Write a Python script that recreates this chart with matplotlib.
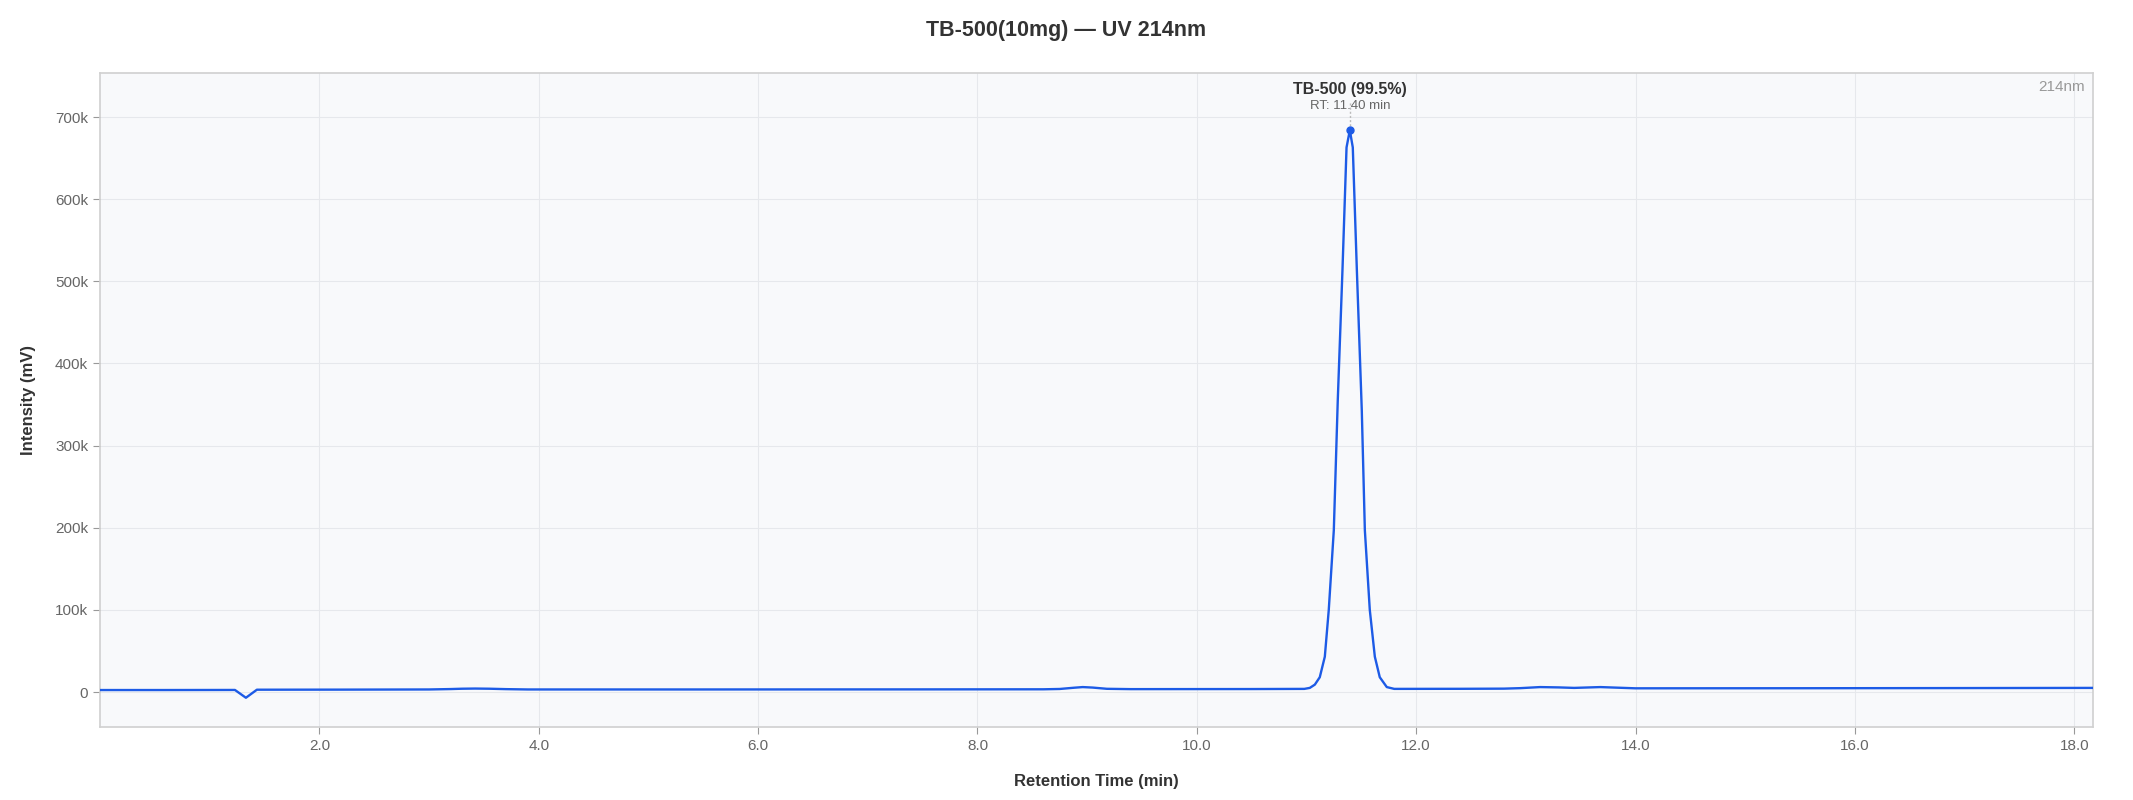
import matplotlib
matplotlib.use("Agg")
import matplotlib.pyplot as plt
from matplotlib.ticker import FuncFormatter

plt.rcParams["font.family"] = ["Liberation Sans", "DejaVu Sans"]

# chromatogram (time in min, intensity in mV)
rt_min = [
    0.00, 0.60, 1.23, 1.33, 1.43, 2.20, 3.00, 3.20, 3.30, 3.42, 3.55, 3.70, 3.90,
    5.50, 7.50, 8.60, 8.75, 8.88, 8.96, 9.05, 9.18, 9.40, 10.50, 10.98,
    11.03, 11.076, 11.121, 11.167, 11.203, 11.249, 11.285, 11.328, 11.365, 11.395,
    11.422, 11.459, 11.504, 11.532, 11.577, 11.623, 11.668, 11.732, 11.80,
    12.40, 12.80, 12.95, 13.13, 13.30, 13.44, 13.56, 13.68, 13.85, 14.00,
    15.50, 17.00, 18.17,
]
intensity = [
    2400, 2400, 2500, -7000, 2800, 2900, 3100, 3600, 4000, 4200, 4000, 3500, 3100,
    3100, 3200, 3300, 3700, 5200, 6000, 5400, 3900, 3500, 3600, 3800,
    5000, 9000, 18000, 43000, 100000, 197000, 355000, 514000, 663000, 684000,
    663000, 514000, 343000, 197000, 100000, 43000, 18000, 6000, 3800,
    3900, 4100, 4700, 6000, 5600, 5000, 5500, 6000, 5200, 4500,
    4600, 4800, 5000,
]

peak_name = "TB-500 (99.5%)"
peak_rt = 11.395
peak_val = 684000

x_ticks = [2, 4, 6, 8, 10, 12, 14, 16, 18]
y_ticks = [0, 100000, 200000, 300000, 400000, 500000, 600000, 700000]

fig = plt.figure(figsize=(21.33, 8), dpi=100)
ax = fig.add_axes([0.0469, 0.09125, 0.9343, 0.8175])
ax.set_facecolor("#f8f9fb")

ax.plot(rt_min, intensity, color="#1d5be6", linewidth=1.7, zorder=3)
ax.plot([peak_rt], [peak_val], "o", color="#1d5be6", markersize=5, zorder=4)
ax.plot([peak_rt, peak_rt], [peak_val, 718000], color="#bbbbbb",
        linestyle=(0, (1.5, 1.5)), linewidth=1, zorder=2)
ax.text(peak_rt, 734000, peak_name, ha="center", va="center",
        fontsize=11.5, fontweight="bold", color="#333333")
ax.text(peak_rt, 713000, "RT: 11.40 min", ha="center", va="center",
        fontsize=9.5, color="#666666")
ax.text(0.996, 0.979, "214nm", transform=ax.transAxes, ha="right", va="center",
        fontsize=11, color="#999999")

ax.set_xlim(0, 18.17)
ax.set_ylim(-42600, 753600)
ax.set_xticks(x_ticks)
ax.set_yticks(y_ticks)
ax.xaxis.set_major_formatter(FuncFormatter(lambda v, p: f"{v:.1f}"))
ax.yaxis.set_major_formatter(FuncFormatter(lambda v, p: "0" if v == 0 else f"{v / 1000:.0f}k"))
ax.tick_params(colors="#999999", labelcolor="#666666", labelsize=11, length=5, width=0.8)
ax.grid(True, color="#e6e8ec", linewidth=0.8)
ax.set_axisbelow(True)
for s in ax.spines.values():
    s.set_color("#d0d0d0")
    s.set_linewidth(1.2)

ax.set_xlabel("Retention Time (min)", fontsize=12, fontweight="bold", color="#333333", labelpad=15)
ax.set_ylabel("Intensity (mV)", fontsize=12, fontweight="bold", color="#333333", labelpad=14)
fig.suptitle("TB-500(10mg) — UV 214nm", fontsize=15.5, fontweight="bold", color="#333333", y=0.975)

fig.savefig("out.png", dpi=100)
